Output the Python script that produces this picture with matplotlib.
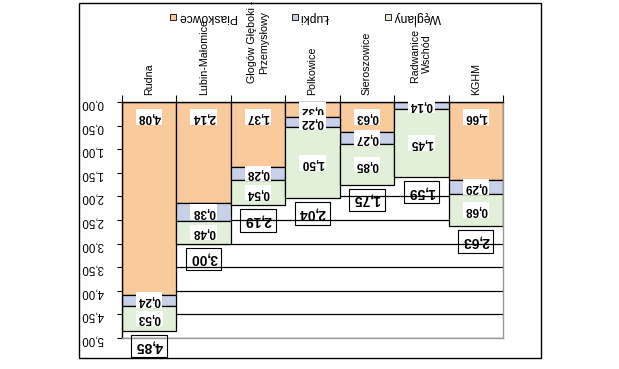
import matplotlib
matplotlib.use("Agg")
import matplotlib.pyplot as plt
import numpy as np
from matplotlib.patches import Rectangle
from matplotlib.ticker import FuncFormatter, MultipleLocator

plt.rcParams['font.family'] = ['Liberation Sans', 'DejaVu Sans']

# dane (chart is drawn upside down, like the reference)
categories = ["Rudna", "Lubin-Małomice", "Głogów Głęboki -\nPrzemysłowy", "Polkowice",
              "Sieroszowice", "Radwanice -\nWschód", "KGHM"]
piaskowce = [4.08, 2.14, 1.37, 0.32, 0.63, 0.00, 1.66]
lupki = [0.24, 0.38, 0.28, 0.22, 0.27, 0.14, 0.29]
weglany = [0.53, 0.48, 0.54, 1.50, 0.85, 1.45, 0.68]
totals = [4.85, 3.00, 2.19, 2.04, 1.75, 1.59, 2.63]
series_names = ["Piaskowce", "Łupki", "Węglany"]
colors = ["#F9CB9C", "#C9D1EA", "#E2EFD9"]

W, H = 619, 369
fig = plt.figure(figsize=(W / 100, H / 100), dpi=100)
ax = fig.add_axes([122 / W, 31 / H, 381 / W, 236 / H])


def fmt(v):
    return f"{v:.2f}".replace('.', ',')


x = np.arange(len(categories))
bottom = np.zeros(len(categories))
for k, (vals, col) in enumerate(zip([piaskowce, lupki, weglany], colors)):
    vals = np.array(vals)
    ax.bar(x, vals, width=1.0, bottom=bottom, color=col, edgecolor='black',
           linewidth=0.9, zorder=2)
    for i, v in enumerate(vals):
        if v <= 0:
            continue
        if k == 0:
            yl = min(0.32, v / 2)   # etykieta przy podstawie
        else:
            yl = bottom[i] + v / 2
        ax.text(i, yl, fmt(v), rotation=180, ha='center', va='center',
                fontsize=8.5, fontweight='bold', zorder=4,
                bbox=dict(boxstyle='square,pad=0.15', fc='white', ec='none'))
    bottom += vals

# sumy
for i, t in enumerate(totals):
    ax.annotate(fmt(t), xy=(i, t), xytext=(0, -11), textcoords='offset points',
                ha='center', va='center', rotation=180, fontsize=10,
                fontweight='bold', zorder=5,
                bbox=dict(boxstyle='square,pad=0.3', fc='none', ec='black', lw=0.8))

# nazwy kopalni nad osią
for i, name in enumerate(categories):
    off = 13.5 if '\n' in name else 5
    ax.annotate(name, xy=(i, 1), xycoords=('data', 'axes fraction'),
                xytext=(0, off), textcoords='offset points', rotation=90,
                ha='center', va='bottom', multialignment='center', fontsize=7.7)

ax.set_xlim(-0.5, len(categories) - 0.5)
ax.set_ylim(5, 0)
ax.yaxis.set_major_locator(MultipleLocator(0.5))
ax.yaxis.set_major_formatter(FuncFormatter(lambda v, p: fmt(v)))
ax.grid(axis='y', color='black', linewidth=0.9)
ax.set_axisbelow(True)

ax.xaxis.tick_top()
ax.set_xticks(np.arange(-0.5, len(categories), 1))
ax.set_xticklabels([])
ax.tick_params(axis='x', length=5, width=0.8, direction='out')
ax.tick_params(axis='y', length=3.5, width=0.8, direction='out', pad=10,
               labelsize=8.3, labelrotation=180)

ax.spines['left'].set_color('black')
ax.spines['top'].set_color('black')
ax.spines['right'].set_color('#999999')
ax.spines['bottom'].set_color('#999999')
for s in ax.spines.values():
    s.set_linewidth(1)

# legenda
box_x = [170, 292, 385]
for name, col, bx in zip(series_names, colors, box_x):
    fig.add_artist(Rectangle((bx / W, 1 - 20 / H), 6 / W, 6 / H, transform=fig.transFigure,
                             fc=col, ec='black', lw=0.6))
    fig.text((bx + 8) / W, 1 - 17 / H, name, rotation=180, ha='left', va='center',
             fontsize=8.7)

# ramka wykresu
fig.add_artist(Rectangle((79 / W, 11 / H), 462 / W, 355 / H, fill=False,
                         ec='black', lw=1, transform=fig.transFigure))

fig.savefig('out.png', dpi=100)
